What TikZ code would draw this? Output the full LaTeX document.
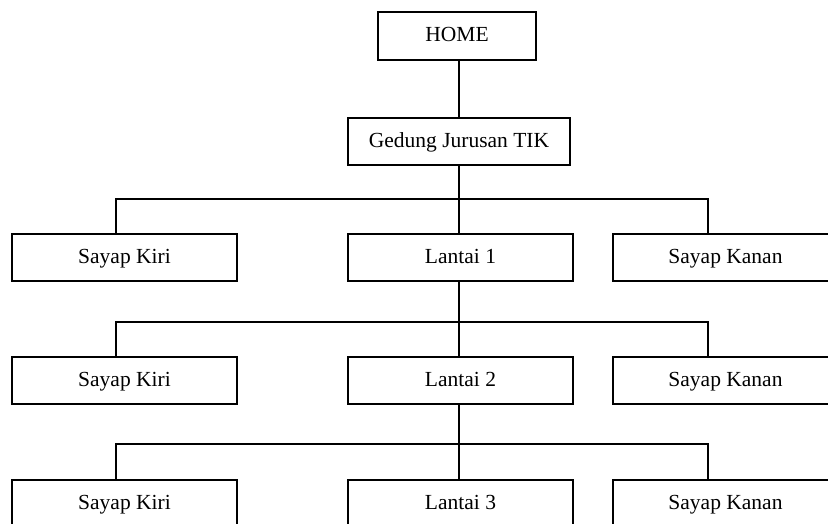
\documentclass[tikz,border=0pt]{standalone}
\usepackage{fontspec}
\setmainfont{Liberation Serif}
\begin{document}
\begin{tikzpicture}[x=1pt,y=-1pt,
  box/.style={draw,line width=1.2pt,minimum height=47pt,minimum width=225pt,inner sep=0pt,
    text height=14.5pt,text depth=3.5pt,font=\fontsize{21.5}{25}\selectfont},
  conn/.style={line width=1.2pt}]
\useasboundingbox (0,0) rectangle (828,523);
\clip (0,0) rectangle (828,523);
\node[box,minimum width=158pt,minimum height=48pt] (home) at (457,36) {HOME};
\node[box,minimum width=222pt] (ged) at (459,141.5) {Gedung Jurusan TIK};
\node[box] (k1) at (124.5,257.5) {Sayap Kiri};
\node[box] (l1) at (460.5,257.5) {Lantai 1};
\node[box] (r1) at (725.5,257.5) {Sayap Kanan};
\node[box] (k2) at (124.5,380.5) {Sayap Kiri};
\node[box] (l2) at (460.5,380.5) {Lantai 2};
\node[box] (r2) at (725.5,380.5) {Sayap Kanan};
\node[box] (k3) at (124.5,503.5) {Sayap Kiri};
\node[box] (l3) at (460.5,503.5) {Lantai 3};
\node[box] (r3) at (725.5,503.5) {Sayap Kanan};
\coordinate (b1) at (459,199);
\coordinate (b2) at (459,322);
\coordinate (b3) at (459,444);
\draw[conn] (ged.north |- home.south) -- (ged.north);
\draw[conn] (ged.south) -- (ged.south |- l1.north);
\draw[conn] (ged.south |- l1.south) -- (ged.south |- l2.north);
\draw[conn] (ged.south |- l2.south) -- (ged.south |- l3.north);
\draw[conn] ([xshift=-8.5pt]k1.north) |- (b1) -| ([xshift=-17.5pt]r1.north);
\draw[conn] ([xshift=-8.5pt]k2.north) |- (b2) -| ([xshift=-17.5pt]r2.north);
\draw[conn] ([xshift=-8.5pt]k3.north) |- (b3) -| ([xshift=-17.5pt]r3.north);
\end{tikzpicture}
\end{document}
